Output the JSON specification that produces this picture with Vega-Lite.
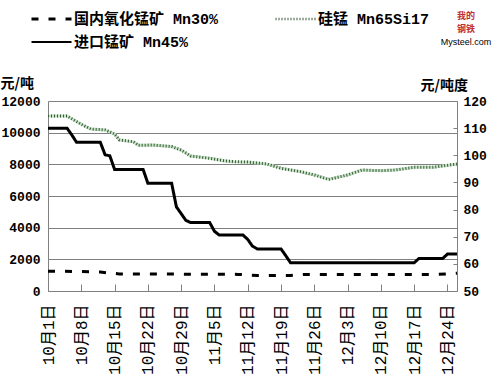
{
  "$schema": "https://vega.github.io/schema/vega-lite/v6.json",
  "width": 409,
  "height": 190,
  "autosize": {"type": "none"},
  "padding": {"left": 48, "top": 101, "right": 42, "bottom": 93},
  "background": "white",
  "title": {
    "text": ["我的", "钢铁"],
    "subtitle": "Mysteel.com",
    "anchor": "end",
    "align": "center",
    "frame": "group",
    "orient": "top",
    "offset": 0,
    "dx": 9,
    "dy": 35,
    "fontSize": 9,
    "font": "Noto Sans CJK SC",
    "fontWeight": "bold",
    "color": "#c03030",
    "lineHeight": 13,
    "subtitleFontSize": 9,
    "subtitleFont": "Liberation Sans",
    "subtitleColor": "#000000",
    "subtitlePadding": 4
  },
  "datasets": {
    "left": [
      {"date": "2008-10-01", "series": "国内氧化锰矿 Mn30%", "value": 1250},
      {"date": "2008-10-08", "series": "国内氧化锰矿 Mn30%", "value": 1230},
      {"date": "2008-10-12", "series": "国内氧化锰矿 Mn30%", "value": 1200},
      {"date": "2008-10-14", "series": "国内氧化锰矿 Mn30%", "value": 1130},
      {"date": "2008-10-16", "series": "国内氧化锰矿 Mn30%", "value": 1080},
      {"date": "2008-11-10", "series": "国内氧化锰矿 Mn30%", "value": 1050},
      {"date": "2008-11-14", "series": "国内氧化锰矿 Mn30%", "value": 980},
      {"date": "2008-11-21", "series": "国内氧化锰矿 Mn30%", "value": 980},
      {"date": "2008-11-24", "series": "国内氧化锰矿 Mn30%", "value": 1050},
      {"date": "2008-12-22", "series": "国内氧化锰矿 Mn30%", "value": 1050},
      {"date": "2008-12-26", "series": "国内氧化锰矿 Mn30%", "value": 1120},
      {"date": "2008-10-01", "series": "硅锰 Mn65Si17", "value": 11050},
      {"date": "2008-10-05", "series": "硅锰 Mn65Si17", "value": 11050},
      {"date": "2008-10-08", "series": "硅锰 Mn65Si17", "value": 10530},
      {"date": "2008-10-10", "series": "硅锰 Mn65Si17", "value": 10230},
      {"date": "2008-10-13", "series": "硅锰 Mn65Si17", "value": 10170},
      {"date": "2008-10-15", "series": "硅锰 Mn65Si17", "value": 9920},
      {"date": "2008-10-16", "series": "硅锰 Mn65Si17", "value": 9540},
      {"date": "2008-10-19", "series": "硅锰 Mn65Si17", "value": 9420},
      {"date": "2008-10-20", "series": "硅锰 Mn65Si17", "value": 9200},
      {"date": "2008-10-23", "series": "硅锰 Mn65Si17", "value": 9220},
      {"date": "2008-10-27", "series": "硅锰 Mn65Si17", "value": 9120},
      {"date": "2008-10-29", "series": "硅锰 Mn65Si17", "value": 8900},
      {"date": "2008-10-31", "series": "硅锰 Mn65Si17", "value": 8530},
      {"date": "2008-11-04", "series": "硅锰 Mn65Si17", "value": 8380},
      {"date": "2008-11-07", "series": "硅锰 Mn65Si17", "value": 8230},
      {"date": "2008-11-09", "series": "硅锰 Mn65Si17", "value": 8170},
      {"date": "2008-11-12", "series": "硅锰 Mn65Si17", "value": 8140},
      {"date": "2008-11-16", "series": "硅锰 Mn65Si17", "value": 8020},
      {"date": "2008-11-19", "series": "硅锰 Mn65Si17", "value": 7750},
      {"date": "2008-11-23", "series": "硅锰 Mn65Si17", "value": 7540},
      {"date": "2008-11-26", "series": "硅锰 Mn65Si17", "value": 7330},
      {"date": "2008-11-29", "series": "硅锰 Mn65Si17", "value": 7050},
      {"date": "2008-12-03", "series": "硅锰 Mn65Si17", "value": 7330},
      {"date": "2008-12-06", "series": "硅锰 Mn65Si17", "value": 7640},
      {"date": "2008-12-10", "series": "硅锰 Mn65Si17", "value": 7600},
      {"date": "2008-12-13", "series": "硅锰 Mn65Si17", "value": 7640},
      {"date": "2008-12-17", "series": "硅锰 Mn65Si17", "value": 7810},
      {"date": "2008-12-21", "series": "硅锰 Mn65Si17", "value": 7810},
      {"date": "2008-12-26", "series": "硅锰 Mn65Si17", "value": 8020}
    ],
    "right": [
      {"date": "2008-10-01", "series": "进口锰矿 Mn45%", "value": 110},
      {"date": "2008-10-05", "series": "进口锰矿 Mn45%", "value": 110},
      {"date": "2008-10-06", "series": "进口锰矿 Mn45%", "value": 107.5},
      {"date": "2008-10-07", "series": "进口锰矿 Mn45%", "value": 104.8},
      {"date": "2008-10-12", "series": "进口锰矿 Mn45%", "value": 104.8},
      {"date": "2008-10-13", "series": "进口锰矿 Mn45%", "value": 100.2},
      {"date": "2008-10-14", "series": "进口锰矿 Mn45%", "value": 99.8},
      {"date": "2008-10-15", "series": "进口锰矿 Mn45%", "value": 94.8},
      {"date": "2008-10-21", "series": "进口锰矿 Mn45%", "value": 94.8},
      {"date": "2008-10-22", "series": "进口锰矿 Mn45%", "value": 89.7},
      {"date": "2008-10-27", "series": "进口锰矿 Mn45%", "value": 89.7},
      {"date": "2008-10-28", "series": "进口锰矿 Mn45%", "value": 81},
      {"date": "2008-10-29", "series": "进口锰矿 Mn45%", "value": 78.5},
      {"date": "2008-10-30", "series": "进口锰矿 Mn45%", "value": 76},
      {"date": "2008-10-31", "series": "进口锰矿 Mn45%", "value": 75.2},
      {"date": "2008-11-04", "series": "进口锰矿 Mn45%", "value": 75.2},
      {"date": "2008-11-05", "series": "进口锰矿 Mn45%", "value": 72},
      {"date": "2008-11-06", "series": "进口锰矿 Mn45%", "value": 70.6},
      {"date": "2008-11-11", "series": "进口锰矿 Mn45%", "value": 70.6},
      {"date": "2008-11-12", "series": "进口锰矿 Mn45%", "value": 69},
      {"date": "2008-11-13", "series": "进口锰矿 Mn45%", "value": 66.5},
      {"date": "2008-11-14", "series": "进口锰矿 Mn45%", "value": 65.5},
      {"date": "2008-11-19", "series": "进口锰矿 Mn45%", "value": 65.5},
      {"date": "2008-11-20", "series": "进口锰矿 Mn45%", "value": 63},
      {"date": "2008-11-21", "series": "进口锰矿 Mn45%", "value": 60.4},
      {"date": "2008-12-17", "series": "进口锰矿 Mn45%", "value": 60.4},
      {"date": "2008-12-18", "series": "进口锰矿 Mn45%", "value": 62},
      {"date": "2008-12-23", "series": "进口锰矿 Mn45%", "value": 62},
      {"date": "2008-12-24", "series": "进口锰矿 Mn45%", "value": 63.6},
      {"date": "2008-12-26", "series": "进口锰矿 Mn45%", "value": 63.6}
    ]
  },
  "encoding": {
    "x": {
      "field": "date",
      "type": "temporal",
      "scale": {
        "type": "utc",
        "domain": [
          {"year": 2008, "month": 10, "date": 1, "utc": true},
          {"year": 2008, "month": 12, "date": 26, "utc": true}
        ]
      },
      "axis": {
        "title": null,
        "values": [
          {"year": 2008, "month": 10, "date": 1, "utc": true},
          {"year": 2008, "month": 10, "date": 8, "utc": true},
          {"year": 2008, "month": 10, "date": 15, "utc": true},
          {"year": 2008, "month": 10, "date": 22, "utc": true},
          {"year": 2008, "month": 10, "date": 29, "utc": true},
          {"year": 2008, "month": 11, "date": 5, "utc": true},
          {"year": 2008, "month": 11, "date": 12, "utc": true},
          {"year": 2008, "month": 11, "date": 19, "utc": true},
          {"year": 2008, "month": 11, "date": 26, "utc": true},
          {"year": 2008, "month": 12, "date": 3, "utc": true},
          {"year": 2008, "month": 12, "date": 10, "utc": true},
          {"year": 2008, "month": 12, "date": 17, "utc": true},
          {"year": 2008, "month": 12, "date": 24, "utc": true}
        ],
        "labelExpr": "utcFormat(datum.value, '%-m月%-d日')",
        "labelAngle": 270,
        "labelFont": "Liberation Mono, Noto Sans CJK SC",
        "labelFontSize": 16,
        "labelColor": "#000000",
        "labelPadding": 20,
        "labelOverlap": false,
        "labelFlush": false,
        "tickSize": -7,
        "tickColor": "#808080",
        "domainColor": "#808080",
        "grid": false
      }
    }
  },
  "layer": [
    {
      "data": {"name": "left"},
      "encoding": {
        "y": {
          "field": "value",
          "type": "quantitative",
          "scale": {"domain": [0, 12000], "nice": false, "zero": false},
          "axis": {
            "orient": "left",
            "title": "元/吨",
            "titleAngle": 0,
            "titleAlign": "left",
            "titleBaseline": "middle",
            "titleX": -48,
            "titleY": -18,
            "titleFont": "Noto Sans CJK SC",
            "titleFontSize": 14,
            "titleFontWeight": "bold",
            "titleColor": "#000000",
            "values": [0, 2000, 4000, 6000, 8000, 10000, 12000],
            "format": "d",
            "labelFont": "Liberation Mono",
            "labelFontSize": 13,
            "labelFontWeight": "bold",
            "labelColor": "#000000",
            "labelPadding": 8,
            "ticks": false,
            "grid": true,
            "gridColor": "#808080",
            "domainColor": "#808080"
          }
        }
      },
      "layer": [
        {
          "transform": [{"filter": "datum.series === '硅锰 Mn65Si17'"}],
          "mark": {"type": "line", "color": "#c4e4c4", "strokeWidth": 3},
          "encoding": {}
        },
        {
          "mark": {"type": "line", "strokeWidth": 3},
          "encoding": {
            "color": {
              "field": "series",
              "type": "nominal",
              "scale": {
                "domain": ["国内氧化锰矿 Mn30%", "硅锰 Mn65Si17", "进口锰矿 Mn45%"],
                "range": ["#000000", "#3d573d", "#000000"]
              },
              "legend": {"title": null}
            },
            "strokeWidth": {
              "field": "series",
              "type": "nominal",
              "scale": {
                "domain": ["国内氧化锰矿 Mn30%", "硅锰 Mn65Si17", "进口锰矿 Mn45%"],
                "range": [3, 2, 3]
              },
              "legend": null
            },
            "strokeDash": {
              "field": "series",
              "type": "nominal",
              "scale": {
                "domain": ["国内氧化锰矿 Mn30%", "硅锰 Mn65Si17", "进口锰矿 Mn45%"],
                "range": [[7, 10], [1, 2], [1, 0]]
              },
              "legend": {"title": null}
            }
          }
        }
      ]
    },
    {
      "data": {"name": "right"},
      "mark": {"type": "line", "strokeWidth": 3},
      "encoding": {
        "y": {
          "field": "value",
          "type": "quantitative",
          "scale": {"domain": [50, 120], "nice": false, "zero": false},
          "axis": {
            "orient": "right",
            "title": "元/吨度",
            "titleAngle": 0,
            "titleAlign": "left",
            "titleBaseline": "middle",
            "titleX": -37,
            "titleY": -16,
            "titleFont": "Noto Sans CJK SC",
            "titleFontSize": 14,
            "titleFontWeight": "bold",
            "titleColor": "#000000",
            "values": [50, 60, 70, 80, 90, 100, 110, 120],
            "labelFont": "Liberation Mono",
            "labelFontSize": 13,
            "labelFontWeight": "bold",
            "labelColor": "#000000",
            "labelPadding": 10,
            "tickSize": -4,
            "tickColor": "#808080",
            "grid": false,
            "domainColor": "#808080"
          }
        },
        "color": {
          "field": "series",
          "type": "nominal",
          "legend": {"title": null}
        },
        "strokeDash": {
          "field": "series",
          "type": "nominal",
          "legend": {"title": null}
        }
      }
    }
  ],
  "resolve": {"scale": {"y": "independent"}},
  "config": {
    "view": {"stroke": null},
    "legend": {
      "orient": "none",
      "legendX": -18,
      "legendY": -89,
      "direction": "horizontal",
      "columns": 2,
      "symbolType": "stroke",
      "symbolSize": 1600,
      "symbolStrokeWidth": 3,
      "clipHeight": 14,
      "labelFont": "Liberation Mono, Noto Sans CJK SC",
      "labelFontSize": 15,
      "labelFontWeight": "bold",
      "labelColor": "#000000",
      "labelLimit": 400,
      "labelOffset": 1,
      "columnPadding": 55,
      "rowPadding": 8
    }
  }
}
